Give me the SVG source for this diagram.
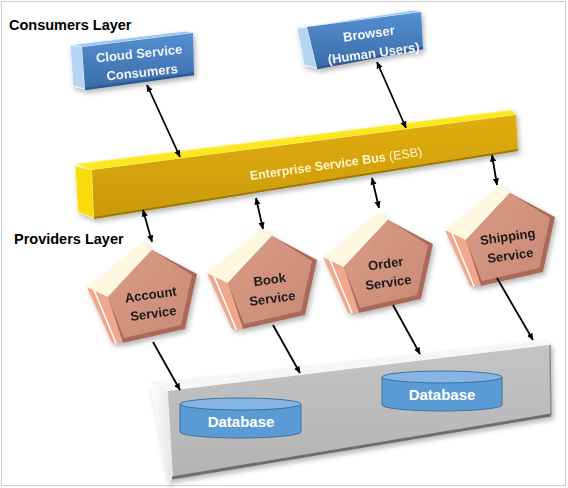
<svg xmlns="http://www.w3.org/2000/svg" width="568" height="488" viewBox="0 0 568 488">
<style>
.layer{font-family:"Liberation Sans",Arial,sans-serif;font-weight:bold;font-size:14.5px;fill:#000}
.ctxt{font-family:"Liberation Sans",Arial,sans-serif;font-weight:bold;font-size:13px;fill:#f2f6fb;text-anchor:middle}
.ptxt{font-family:"Liberation Sans",Arial,sans-serif;font-weight:bold;font-size:13px;fill:#1a1a1a;text-anchor:middle}
.esbt{font-family:"Liberation Sans",Arial,sans-serif;font-weight:bold;font-size:12.5px;fill:#fff6c8;text-anchor:middle}
.dbt{font-family:"Liberation Sans",Arial,sans-serif;font-weight:bold;font-size:15px;fill:#fff;text-anchor:middle}
.conn{stroke:#000;stroke-width:1.8;fill:none}
.db{fill:#5b9bd5;stroke:#41719c;stroke-width:1}
.dbtop{fill:#86b4e3;stroke:#41719c;stroke-width:1}
</style>
<defs>
<marker id="ah" viewBox="0 0 8 8" refX="7.5" refY="4" markerWidth="7" markerHeight="7" markerUnits="userSpaceOnUse" orient="auto-start-reverse">
<path d="M0,0.5 L8,4 L0,7.5 z" fill="#000"/>
</marker>
<linearGradient id="bluef" x1="0" y1="0" x2="0" y2="1">
<stop offset="0" stop-color="#5590d2"/><stop offset="1" stop-color="#3a6ba8"/>
</linearGradient>
<linearGradient id="goldf" x1="0" y1="0" x2="0" y2="1">
<stop offset="0" stop-color="#e0ad12"/><stop offset="1" stop-color="#c99a06"/>
</linearGradient>
<linearGradient id="pinkf" x1="0" y1="0" x2="1" y2="1">
<stop offset="0" stop-color="#d99c86"/><stop offset="1" stop-color="#c98a75"/>
</linearGradient>
<linearGradient id="grayf" x1="0" y1="0" x2="0" y2="1">
<stop offset="0" stop-color="#c4c4c4"/><stop offset="1" stop-color="#b4b4b4"/>
</linearGradient>
<linearGradient id="wside" x1="0" y1="0" x2="1" y2="0">
<stop offset="0" stop-color="#ffffff"/><stop offset="1" stop-color="#e6e6e6"/>
</linearGradient>
<filter id="sh" x="-20%" y="-20%" width="140%" height="150%">
<feDropShadow dx="2" dy="3" stdDeviation="2.5" flood-color="#000" flood-opacity="0.28"/>
</filter>
<g id="pent">
<polygon points="-64,-16 -43,-6 -28,40 -39,40" fill="#f0a88d"/>
<line x1="-57" y1="-13" x2="-35" y2="40" stroke="#fff" stroke-width="1.5"/>
<polygon points="-43,-6 1,-53 -8,-61 -64,-16" fill="#fff8e0"/>
<polygon points="1,-53 46,-29 34,26 -28,40 -43,-6" fill="#a96b5a"/>
<polygon points="1,-53 41,-28 30,22 -27,35 -43,-6" fill="url(#pinkf)"/>
</g>
</defs>
<rect x="1.5" y="1.5" width="564" height="484" fill="#fff" stroke="#cfcfcf" stroke-width="1"/>

<text class="layer" x="9" y="30">Consumers Layer</text>
<text class="layer" x="14" y="244">Providers Layer</text>

<g id="cloud" filter="url(#sh)">
<polygon points="70,45 82,47 85,89 73,86" fill="#b6d4f4" stroke="#eaf4ff" stroke-width="1"/>
<polygon points="70,45 186,31 193,33 82,47" fill="#9cc4ee" stroke="#eaf4ff" stroke-width="1"/>
<polygon points="82,47 193,33 194,74 85,89" fill="url(#bluef)"/>
<line x1="85" y1="89" x2="194" y2="74" stroke="#2d5a92" stroke-width="2.5"/>
<g transform="rotate(-6 140 62)">
<text class="ctxt" x="140" y="58">Cloud Service</text>
<text class="ctxt" x="141" y="77">Consumers</text>
</g>
</g>

<g id="browser" filter="url(#sh)">
<polygon points="297,28 307,27 317,68 304,65" fill="#b6d4f4" stroke="#eaf4ff" stroke-width="1"/>
<polygon points="297,28 414,10 421,12 307,27" fill="#9cc4ee" stroke="#eaf4ff" stroke-width="1"/>
<polygon points="307,27 421,12 423,48 317,68" fill="url(#bluef)"/>
<line x1="317" y1="68" x2="423" y2="48" stroke="#2d5a92" stroke-width="2.5"/>
<g transform="rotate(-8 370 42)">
<text class="ctxt" x="370" y="38">Browser</text>
<text class="ctxt" x="372" y="58">(Human Users)</text>
</g>
</g>

<g id="esb" filter="url(#sh)">
<polygon points="75,166 92,170 94,218 78,212" fill="#f7dc10" stroke="#fff38a" stroke-width="1"/>
<polygon points="77,164 512,110 516,115 92,170" fill="#fce81a" stroke="#fff38a" stroke-width="1"/>
<polygon points="92,170 516,115 518,150 94,218" fill="url(#goldf)"/>
<line x1="94" y1="218" x2="518" y2="150" stroke="#9c7a05" stroke-width="2"/>
<text class="esbt" x="336" y="168" transform="rotate(-8 336 164)">Enterprise Service Bus <tspan font-weight="normal">(ESB)</tspan></text>
</g>

<g id="account" filter="url(#sh)">
<use href="#pent" x="151" y="303"/>
<g transform="rotate(-8 152 304)">
<text class="ptxt" x="152" y="299">Account</text>
<text class="ptxt" x="152" y="318">Service</text>
</g>
</g>
<g id="book" filter="url(#sh)">
<use href="#pent" x="271" y="289"/>
<g transform="rotate(-8 271 289)">
<text class="ptxt" x="271" y="284">Book</text>
<text class="ptxt" x="271" y="303">Service</text>
</g>
</g>
<g id="order" filter="url(#sh)">
<use href="#pent" x="387" y="273"/>
<g transform="rotate(-8 387 273)">
<text class="ptxt" x="387" y="268">Order</text>
<text class="ptxt" x="387" y="287">Service</text>
</g>
</g>
<g id="shipping" filter="url(#sh)">
<use href="#pent" x="509" y="246"/>
<g transform="rotate(-8 509 246)">
<text class="ptxt" x="509" y="241">Shipping</text>
<text class="ptxt" x="509" y="260">Service</text>
</g>
</g>

<g id="datastore" filter="url(#sh)">
<polygon points="150,383 545,340 550,345 168,391" fill="#f6f6f6"/>
<polygon points="150,383 168,391 173,477 168,484" fill="url(#wside)"/>
<polygon points="168,391 550,345 551,415 173,477" fill="url(#grayf)"/>
<line x1="172" y1="478" x2="551" y2="415" stroke="#6e6e6e" stroke-width="3"/>
<line x1="550" y1="345" x2="551" y2="415" stroke="#8a8a8a" stroke-width="1.5"/>
</g>

<g id="database1">
<path class="db" d="M180,404 L180,432 A60.5,6 0 0 0 301,432 L301,404 Z"/>
<ellipse class="dbtop" cx="240.5" cy="404" rx="60.5" ry="6"/>
<text class="dbt" x="241" y="427">Database</text>
</g>
<g id="database2">
<path class="db" d="M382,377 L382,405 A60,6 0 0 0 502,405 L502,377 Z"/>
<ellipse class="dbtop" cx="442" cy="377" rx="60" ry="6"/>
<text class="dbt" x="442" y="400">Database</text>
</g>

<g id="connectors" class="conn">
<line x1="147" y1="85" x2="180" y2="157" marker-start="url(#ah)" marker-end="url(#ah)"/>
<line x1="377" y1="62" x2="406" y2="128" marker-start="url(#ah)" marker-end="url(#ah)"/>
<line x1="143" y1="210" x2="152" y2="242" marker-start="url(#ah)" marker-end="url(#ah)"/>
<line x1="256" y1="198" x2="263" y2="229" marker-start="url(#ah)" marker-end="url(#ah)"/>
<line x1="372" y1="178" x2="379" y2="208" marker-start="url(#ah)" marker-end="url(#ah)"/>
<line x1="492" y1="155" x2="497" y2="185" marker-start="url(#ah)" marker-end="url(#ah)"/>
<line x1="153" y1="342" x2="180" y2="390" marker-end="url(#ah)"/>
<line x1="273" y1="325" x2="300" y2="373" marker-end="url(#ah)"/>
<line x1="393" y1="305" x2="420" y2="354" marker-end="url(#ah)"/>
<line x1="497" y1="278" x2="533" y2="340" marker-end="url(#ah)"/>
</g>
</svg>
